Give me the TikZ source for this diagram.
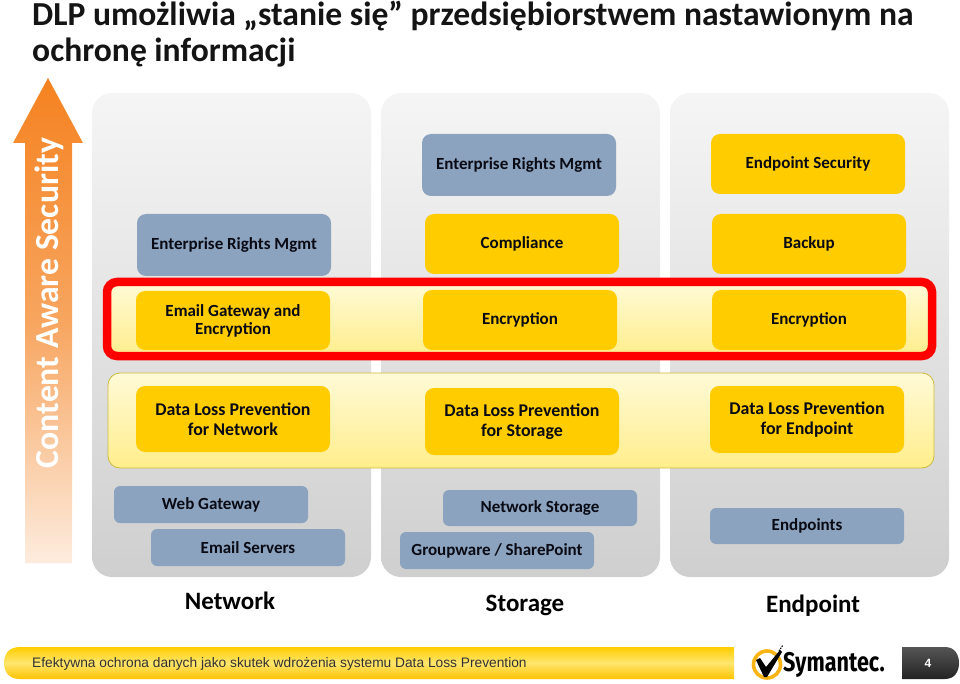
\documentclass[tikz,border=0pt]{standalone}
\usepackage{fontspec}
\setmainfont{Carlito}
\newfontfamily\arialf{Liberation Sans}
\newfontfamily\logof[FakeStretch=0.8]{Fira Sans}
\usetikzlibrary{calc}
\definecolor{boxyel}{HTML}{FFCC00}
\definecolor{boxblue}{HTML}{8BA3BE}
\definecolor{txt}{HTML}{0A0A14}
\tikzset{
  x=1pt,y=-1pt,
  panel/.style={draw=none,rounded corners=20pt,top color=panelTop,bottom color=panelBot},
  card/.style n args={2}{draw=none,rounded corners=9pt,minimum width=194pt,minimum height=#1pt,inner sep=0pt,
     align=center,text=txt,font=\fontsize{17}{20}\selectfont\bfseries,fill=#2},
  yel/.style={card={#1}{boxyel}},
  blu/.style={card={#1}{boxblue}},
  dlpfont/.style={font=\fontsize{17.9}{20}\selectfont\bfseries},
  axis/.style={font=\fontsize{25}{28}\selectfont\bfseries,text=black,inner sep=0pt},
}
\definecolor{panelTop}{HTML}{F5F5F5}
\definecolor{panelBot}{HTML}{CFCFCF}
\begin{document}
\begin{tikzpicture}
\useasboundingbox (0,0) rectangle (960,684);
% title
\node[anchor=west,inner sep=0pt,font=\fontsize{33.6}{38}\selectfont\bfseries,text={rgb,255:red,20;green,20;blue,20}] (t1) at (32,16) {DLP umożliwia „stanie się” przedsiębiorstwem nastawionym na};
\node[anchor=west,inner sep=0pt,font=\fontsize{33.6}{38}\selectfont\bfseries,text={rgb,255:red,20;green,20;blue,20}] (t2) at (32,53) {ochronę informacji};
% arrow
\path[top color={rgb,255:red,245;green,130;blue,32},bottom color={rgb,255:red,253;green,236;blue,222},middle color={rgb,255:red,247;green,165;blue,95}]
  (48,78) -- (83,143) -- (72,143) -- (72,563) -- (25,563) -- (25,143) -- (13,143) -- cycle;
\node[rotate=90,text=white,font=\fontsize{33.7}{36}\selectfont\bfseries,inner sep=0pt] (sec) at (49,303) {Content Aware Security};
% panels
\path[panel] (92,93) rectangle (371,577);
\path[panel] (381,93) rectangle (660,577);
\path[panel] (670,93) rectangle (949,577);
% bands
\path[draw={rgb,255:red,255;green,0;blue,0},line width=8.5pt,rounded corners=10pt,top color={rgb,255:red,255;green,250;blue,215},bottom color={rgb,255:red,255;green,238;blue,140}]
  (107,282) rectangle (932,356);
\path[draw={rgb,255:red,205;green,185;blue,60},line width=0.8pt,rounded corners=12pt,top color={rgb,255:red,255;green,250;blue,215},bottom color={rgb,255:red,255;green,238;blue,140}]
  (108,373) rectangle (934,468);
% network
\node[blu=62] (erm1) at (234,245) {Enterprise Rights Mgmt};
\node[yel=59] (mail) at (233,320.5) {Email Gateway and\\[-2pt]Encryption};
\node[yel=66,dlpfont] (dlpn) at (233,419) {Data Loss Prevention\\for Network};
\node[blu=37,rounded corners=6pt] (web) at (211,504.5) {Web Gateway};
\node[blu=37,rounded corners=6pt] (srv) at (248,547.5) {Email Servers};
% storage
\node[blu=62] (erm2) at (519,165) {Enterprise Rights Mgmt};
\node[yel=60] (comp) at (522,244) {Compliance};
\node[yel=60] (enc2) at (520,320) {Encryption};
\node[yel=67,dlpfont] (dlps) at (522,421.5) {Data Loss Prevention\\for Storage};
\node[blu=36,rounded corners=6pt] (nets) at (540,508) {Network Storage};
\node[blu=37,rounded corners=6pt] (grp) at (497,550.5) {Groupware / SharePoint};
% endpoint
\node[yel=60] (eps) at (808,164) {Endpoint Security};
\node[yel=60] (back) at (809,244) {Backup};
\node[yel=60] (enc3) at (809,320) {Encryption};
\node[yel=67,dlpfont] (dlpe) at (807,419.5) {Data Loss Prevention\\for Endpoint};
\node[blu=36,rounded corners=6pt] (ends) at (807,526) {Endpoints};
% axis labels
\node[axis] (lnet) at (230,600.5) {Network};
\node[axis] (lsto) at (525,605) {Storage};
\node[axis] (lend) at (813,605.5) {Endpoint};
% footer
\path[top color={rgb,255:red,255;green,205;blue,0},bottom color={rgb,255:red,255;green,195;blue,0},middle color={rgb,255:red,255;green,230;blue,110}]
  (20,647) -- (734,647) -- (734,679) -- (20,679) .. controls (9,679) and (4,672) .. (4,663) .. controls (4,654) and (9,647) .. (20,647) -- cycle;
\node[anchor=west,inner sep=0pt,font=\arialf\fontsize{13.75}{16}\selectfont,text={rgb,255:red,50;green,50;blue,50}] (foot) at (32,664) {Efektywna ochrona danych jako skutek wdrożenia systemu Data Loss Prevention};
% logo
\draw[draw={rgb,255:red,250;green,180;blue,20},line width=3.6pt] (767,664.5) circle[radius=13.5pt];
\fill[black] (756,660) -- (760,658) -- (766,667) -- (780,650) -- (782,652) -- (767,677) -- (764,677) -- cycle;
\draw[black,line width=1pt,dash pattern=on 1.5pt off 1pt] (779,651) -- (783,645);
\node[anchor=west,inner sep=0pt,font=\logof\fontsize{27}{30}\selectfont\bfseries,text=black] (logo) at (783,665) {Symantec.};
% page badge
\path[top color={rgb,255:red,85;green,85;blue,85},bottom color={rgb,255:red,35;green,35;blue,35}]
  (902,647) -- (945,647) .. controls (955,647) and (959,655) .. (959,663) .. controls (959,671) and (955,679) .. (945,679) -- (902,679) -- cycle;
\node[text=white,inner sep=0pt,font=\arialf\fontsize{12}{14}\selectfont\bfseries] (page) at (928,663) {4};
\end{tikzpicture}
\end{document}
